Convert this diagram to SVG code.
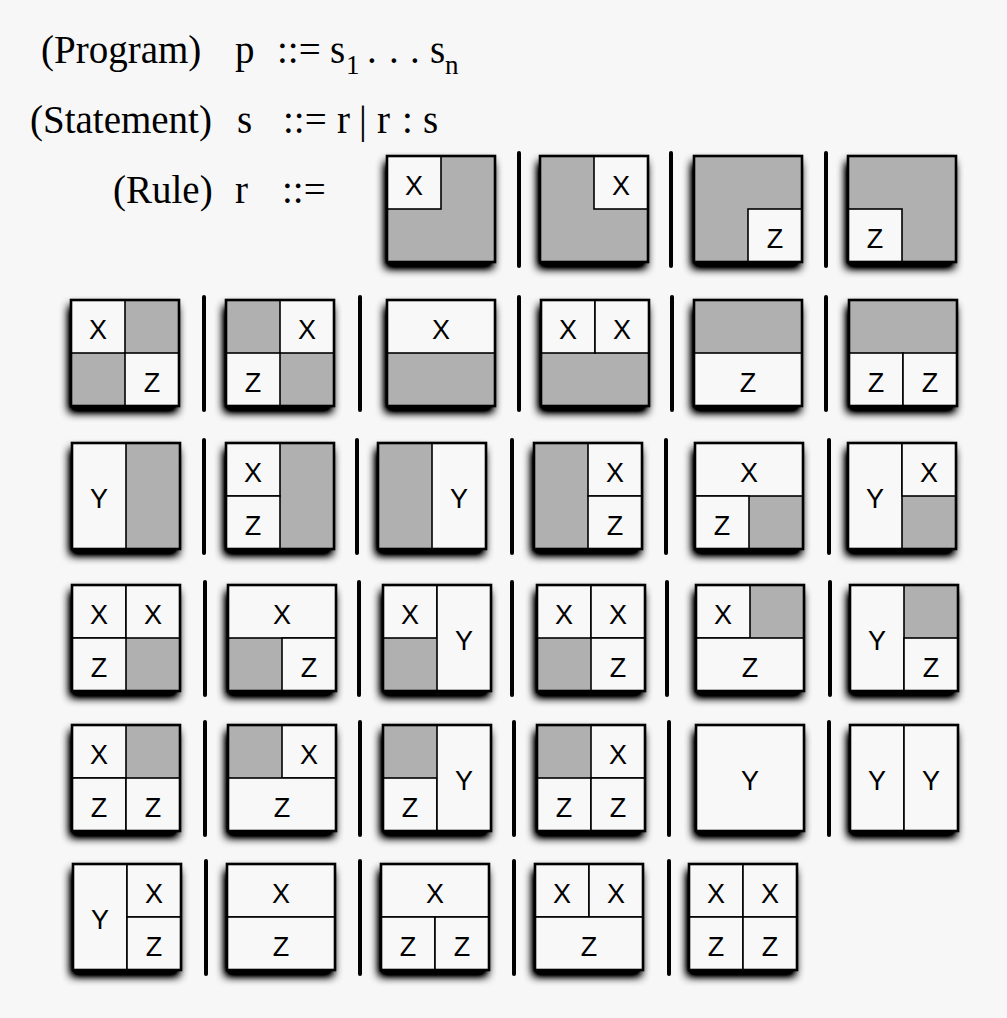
<svg xmlns="http://www.w3.org/2000/svg" width="1007" height="1018" viewBox="0 0 1007 1018">
<defs>
<filter id="sh" x="-30%" y="-30%" width="160%" height="160%">
<feGaussianBlur in="SourceAlpha" stdDeviation="5" result="b"/>
<feOffset in="b" dx="-2" dy="6" result="o"/>
<feComponentTransfer in="o" result="d"><feFuncA type="linear" slope="1.7"/></feComponentTransfer>
<feMerge><feMergeNode in="d"/><feMergeNode in="SourceGraphic"/></feMerge>
</filter>
<style>
.gr{font-family:"Liberation Serif","Times New Roman",serif;font-size:39px;fill:#000}
.sub{font-family:"Liberation Serif","Times New Roman",serif;font-size:27px;fill:#000}
.lb{font-family:"Liberation Sans",Arial,sans-serif;font-size:27px;fill:#000;text-anchor:middle}
.base{fill:#b0b0b0;filter:url(#sh)}
.w{fill:#f8f8f8;stroke:#000;stroke-width:1.6}
.o{fill:none;stroke:#000;stroke-width:2.6}
.bar{stroke:#000;stroke-width:4;stroke-linecap:round}
</style>
</defs>
<rect width="1007" height="1018" fill="#f7f7f7"/>

<g id="grammar">
<text class="gr" x="41" y="63">(Program)</text>
<text class="gr" x="235" y="63">p</text>
<text class="gr" x="277" y="63">::=</text>
<text class="gr" x="330" y="63">s</text>
<text class="sub" x="346" y="74">1</text>
<text class="gr" x="367 389 410" y="63">...</text>
<text class="gr" x="430" y="63">s</text>
<text class="sub" x="445" y="74">n</text>

<text class="gr" x="30" y="133">(Statement)</text>
<text class="gr" x="237" y="133">s</text>
<text class="gr" x="283" y="133">::=</text>
<text class="gr" x="337" y="133">r</text>
<text class="gr" x="359" y="133">|</text>
<text class="gr" x="377" y="133">r</text>
<text class="gr" x="402" y="133">:</text>
<text class="gr" x="423" y="133">s</text>

<text class="gr" x="113" y="203">(Rule)</text>
<text class="gr" x="235" y="203">r</text>
<text class="gr" x="282" y="203">::=</text>
</g>

<g id="separators">
<line class="bar" x1="519" y1="153" x2="519" y2="266"/>
<line class="bar" x1="671" y1="153" x2="671" y2="266"/>
<line class="bar" x1="826" y1="153" x2="826" y2="266"/>

<line class="bar" x1="204" y1="297" x2="204" y2="410"/>
<line class="bar" x1="360" y1="297" x2="360" y2="410"/>
<line class="bar" x1="519" y1="297" x2="519" y2="410"/>
<line class="bar" x1="672" y1="297" x2="672" y2="410"/>
<line class="bar" x1="826" y1="297" x2="826" y2="410"/>

<line class="bar" x1="204" y1="440" x2="204" y2="553"/>
<line class="bar" x1="357" y1="440" x2="357" y2="553"/>
<line class="bar" x1="512" y1="440" x2="512" y2="553"/>
<line class="bar" x1="666" y1="440" x2="666" y2="553"/>
<line class="bar" x1="829" y1="440" x2="829" y2="553"/>

<line class="bar" x1="205" y1="582" x2="205" y2="695"/>
<line class="bar" x1="359" y1="582" x2="359" y2="695"/>
<line class="bar" x1="512" y1="582" x2="512" y2="695"/>
<line class="bar" x1="667" y1="582" x2="667" y2="695"/>
<line class="bar" x1="830" y1="582" x2="830" y2="695"/>

<line class="bar" x1="205" y1="722" x2="205" y2="835"/>
<line class="bar" x1="360" y1="722" x2="360" y2="835"/>
<line class="bar" x1="514" y1="722" x2="514" y2="835"/>
<line class="bar" x1="669" y1="722" x2="669" y2="835"/>
<line class="bar" x1="829" y1="722" x2="829" y2="835"/>

<line class="bar" x1="206" y1="861" x2="206" y2="974"/>
<line class="bar" x1="360" y1="861" x2="360" y2="974"/>
<line class="bar" x1="514" y1="861" x2="514" y2="974"/>
<line class="bar" x1="669" y1="861" x2="669" y2="974"/>
</g>

<!-- Row 1 -->
<g id="r01" transform="translate(387,156)">
<rect class="base" width="108" height="106"/>
<rect class="w" x="0" y="0" width="54" height="53"/>
<text class="lb" x="27" y="39">X</text>
<rect class="o" width="108" height="106"/>
</g>
<g id="r02" transform="translate(540,156)">
<rect class="base" width="108" height="106"/>
<rect class="w" x="54" y="0" width="54" height="53"/>
<text class="lb" x="81" y="39">X</text>
<rect class="o" width="108" height="106"/>
</g>
<g id="r03" transform="translate(694,156)">
<rect class="base" width="108" height="106"/>
<rect class="w" x="54" y="53" width="54" height="53"/>
<text class="lb" x="81" y="92">Z</text>
<rect class="o" width="108" height="106"/>
</g>
<g id="r04" transform="translate(848,156)">
<rect class="base" width="108" height="106"/>
<rect class="w" x="0" y="53" width="54" height="53"/>
<text class="lb" x="27" y="92">Z</text>
<rect class="o" width="108" height="106"/>
</g>

<!-- Row 2 -->
<g id="r05" transform="translate(71,300)">
<rect class="base" width="108" height="106"/>
<rect class="w" x="0" y="0" width="54" height="53"/>
<rect class="w" x="54" y="53" width="54" height="53"/>
<text class="lb" x="27" y="39">X</text>
<text class="lb" x="81" y="92">Z</text>
<rect class="o" width="108" height="106"/>
</g>
<g id="r06" transform="translate(226,300)">
<rect class="base" width="108" height="106"/>
<rect class="w" x="54" y="0" width="54" height="53"/>
<rect class="w" x="0" y="53" width="54" height="53"/>
<text class="lb" x="81" y="39">X</text>
<text class="lb" x="27" y="92">Z</text>
<rect class="o" width="108" height="106"/>
</g>
<g id="r07" transform="translate(387,300)">
<rect class="base" width="108" height="106"/>
<rect class="w" x="0" y="0" width="108" height="53"/>
<text class="lb" x="54" y="39">X</text>
<rect class="o" width="108" height="106"/>
</g>
<g id="r08" transform="translate(541,300)">
<rect class="base" width="108" height="106"/>
<rect class="w" x="0" y="0" width="54" height="53"/>
<rect class="w" x="54" y="0" width="54" height="53"/>
<text class="lb" x="27" y="39">X</text>
<text class="lb" x="81" y="39">X</text>
<rect class="o" width="108" height="106"/>
</g>
<g id="r09" transform="translate(694,300)">
<rect class="base" width="108" height="106"/>
<rect class="w" x="0" y="53" width="108" height="53"/>
<text class="lb" x="54" y="92">Z</text>
<rect class="o" width="108" height="106"/>
</g>
<g id="r10" transform="translate(849,300)">
<rect class="base" width="108" height="106"/>
<rect class="w" x="0" y="53" width="54" height="53"/>
<rect class="w" x="54" y="53" width="54" height="53"/>
<text class="lb" x="27" y="92">Z</text>
<text class="lb" x="81" y="92">Z</text>
<rect class="o" width="108" height="106"/>
</g>

<!-- Row 3 -->
<g id="r11" transform="translate(72,443)">
<rect class="base" width="108" height="106"/>
<rect class="w" x="0" y="0" width="54" height="106"/>
<text class="lb" x="27" y="65">Y</text>
<rect class="o" width="108" height="106"/>
</g>
<g id="r12" transform="translate(226,443)">
<rect class="base" width="108" height="106"/>
<rect class="w" x="0" y="0" width="54" height="53"/>
<rect class="w" x="0" y="53" width="54" height="53"/>
<text class="lb" x="27" y="39">X</text>
<text class="lb" x="27" y="92">Z</text>
<rect class="o" width="108" height="106"/>
</g>
<g id="r13" transform="translate(378,443)">
<rect class="base" width="108" height="106"/>
<rect class="w" x="54" y="0" width="54" height="106"/>
<text class="lb" x="81" y="65">Y</text>
<rect class="o" width="108" height="106"/>
</g>
<g id="r14" transform="translate(534,443)">
<rect class="base" width="108" height="106"/>
<rect class="w" x="54" y="0" width="54" height="53"/>
<rect class="w" x="54" y="53" width="54" height="53"/>
<text class="lb" x="81" y="39">X</text>
<text class="lb" x="81" y="92">Z</text>
<rect class="o" width="108" height="106"/>
</g>
<g id="r15" transform="translate(695,443)">
<rect class="base" width="108" height="106"/>
<rect class="w" x="0" y="0" width="108" height="53"/>
<rect class="w" x="0" y="53" width="54" height="53"/>
<text class="lb" x="54" y="39">X</text>
<text class="lb" x="27" y="92">Z</text>
<rect class="o" width="108" height="106"/>
</g>
<g id="r16" transform="translate(848,443)">
<rect class="base" width="108" height="106"/>
<rect class="w" x="0" y="0" width="54" height="106"/>
<rect class="w" x="54" y="0" width="54" height="53"/>
<text class="lb" x="27" y="65">Y</text>
<text class="lb" x="81" y="39">X</text>
<rect class="o" width="108" height="106"/>
</g>

<!-- Row 4 -->
<g id="r17" transform="translate(72,585)">
<rect class="base" width="108" height="106"/>
<rect class="w" x="0" y="0" width="54" height="53"/>
<rect class="w" x="54" y="0" width="54" height="53"/>
<rect class="w" x="0" y="53" width="54" height="53"/>
<text class="lb" x="27" y="39">X</text>
<text class="lb" x="81" y="39">X</text>
<text class="lb" x="27" y="92">Z</text>
<rect class="o" width="108" height="106"/>
</g>
<g id="r18" transform="translate(228,585)">
<rect class="base" width="108" height="106"/>
<rect class="w" x="0" y="0" width="108" height="53"/>
<rect class="w" x="54" y="53" width="54" height="53"/>
<text class="lb" x="54" y="39">X</text>
<text class="lb" x="81" y="92">Z</text>
<rect class="o" width="108" height="106"/>
</g>
<g id="r19" transform="translate(383,585)">
<rect class="base" width="108" height="106"/>
<rect class="w" x="0" y="0" width="54" height="53"/>
<rect class="w" x="54" y="0" width="54" height="106"/>
<text class="lb" x="27" y="39">X</text>
<text class="lb" x="81" y="65">Y</text>
<rect class="o" width="108" height="106"/>
</g>
<g id="r20" transform="translate(537,585)">
<rect class="base" width="108" height="106"/>
<rect class="w" x="0" y="0" width="54" height="53"/>
<rect class="w" x="54" y="0" width="54" height="53"/>
<rect class="w" x="54" y="53" width="54" height="53"/>
<text class="lb" x="27" y="39">X</text>
<text class="lb" x="81" y="39">X</text>
<text class="lb" x="81" y="92">Z</text>
<rect class="o" width="108" height="106"/>
</g>
<g id="r21" transform="translate(696,585)">
<rect class="base" width="108" height="106"/>
<rect class="w" x="0" y="0" width="54" height="53"/>
<rect class="w" x="0" y="53" width="108" height="53"/>
<text class="lb" x="27" y="39">X</text>
<text class="lb" x="54" y="92">Z</text>
<rect class="o" width="108" height="106"/>
</g>
<g id="r22" transform="translate(850,585)">
<rect class="base" width="108" height="106"/>
<rect class="w" x="0" y="0" width="54" height="106"/>
<rect class="w" x="54" y="53" width="54" height="53"/>
<text class="lb" x="27" y="65">Y</text>
<text class="lb" x="81" y="92">Z</text>
<rect class="o" width="108" height="106"/>
</g>

<!-- Row 5 -->
<g id="r23" transform="translate(72,725)">
<rect class="base" width="108" height="106"/>
<rect class="w" x="0" y="0" width="54" height="53"/>
<rect class="w" x="0" y="53" width="54" height="53"/>
<rect class="w" x="54" y="53" width="54" height="53"/>
<text class="lb" x="27" y="39">X</text>
<text class="lb" x="27" y="92">Z</text>
<text class="lb" x="81" y="92">Z</text>
<rect class="o" width="108" height="106"/>
</g>
<g id="r24" transform="translate(228,725)">
<rect class="base" width="108" height="106"/>
<rect class="w" x="54" y="0" width="54" height="53"/>
<rect class="w" x="0" y="53" width="108" height="53"/>
<text class="lb" x="81" y="39">X</text>
<text class="lb" x="54" y="92">Z</text>
<rect class="o" width="108" height="106"/>
</g>
<g id="r25" transform="translate(383,725)">
<rect class="base" width="108" height="106"/>
<rect class="w" x="0" y="53" width="54" height="53"/>
<rect class="w" x="54" y="0" width="54" height="106"/>
<text class="lb" x="27" y="92">Z</text>
<text class="lb" x="81" y="65">Y</text>
<rect class="o" width="108" height="106"/>
</g>
<g id="r26" transform="translate(537,725)">
<rect class="base" width="108" height="106"/>
<rect class="w" x="54" y="0" width="54" height="53"/>
<rect class="w" x="0" y="53" width="54" height="53"/>
<rect class="w" x="54" y="53" width="54" height="53"/>
<text class="lb" x="81" y="39">X</text>
<text class="lb" x="27" y="92">Z</text>
<text class="lb" x="81" y="92">Z</text>
<rect class="o" width="108" height="106"/>
</g>
<g id="r27" transform="translate(696,725)">
<rect class="base" width="108" height="106"/>
<rect class="w" x="0" y="0" width="108" height="106"/>
<text class="lb" x="54" y="65">Y</text>
<rect class="o" width="108" height="106"/>
</g>
<g id="r28" transform="translate(850,725)">
<rect class="base" width="108" height="106"/>
<rect class="w" x="0" y="0" width="54" height="106"/>
<rect class="w" x="54" y="0" width="54" height="106"/>
<text class="lb" x="27" y="65">Y</text>
<text class="lb" x="81" y="65">Y</text>
<rect class="o" width="108" height="106"/>
</g>

<!-- Row 6 -->
<g id="r29" transform="translate(73,864)">
<rect class="base" width="108" height="106"/>
<rect class="w" x="0" y="0" width="54" height="106"/>
<rect class="w" x="54" y="0" width="54" height="53"/>
<rect class="w" x="54" y="53" width="54" height="53"/>
<text class="lb" x="27" y="65">Y</text>
<text class="lb" x="81" y="39">X</text>
<text class="lb" x="81" y="92">Z</text>
<rect class="o" width="108" height="106"/>
</g>
<g id="r30" transform="translate(227,864)">
<rect class="base" width="108" height="106"/>
<rect class="w" x="0" y="0" width="108" height="53"/>
<rect class="w" x="0" y="53" width="108" height="53"/>
<text class="lb" x="54" y="39">X</text>
<text class="lb" x="54" y="92">Z</text>
<rect class="o" width="108" height="106"/>
</g>
<g id="r31" transform="translate(381,864)">
<rect class="base" width="108" height="106"/>
<rect class="w" x="0" y="0" width="108" height="53"/>
<rect class="w" x="0" y="53" width="54" height="53"/>
<rect class="w" x="54" y="53" width="54" height="53"/>
<text class="lb" x="54" y="39">X</text>
<text class="lb" x="27" y="92">Z</text>
<text class="lb" x="81" y="92">Z</text>
<rect class="o" width="108" height="106"/>
</g>
<g id="r32" transform="translate(535,864)">
<rect class="base" width="108" height="106"/>
<rect class="w" x="0" y="0" width="54" height="53"/>
<rect class="w" x="54" y="0" width="54" height="53"/>
<rect class="w" x="0" y="53" width="108" height="53"/>
<text class="lb" x="27" y="39">X</text>
<text class="lb" x="81" y="39">X</text>
<text class="lb" x="54" y="92">Z</text>
<rect class="o" width="108" height="106"/>
</g>
<g id="r33" transform="translate(689,864)">
<rect class="base" width="108" height="106"/>
<rect class="w" x="0" y="0" width="54" height="53"/>
<rect class="w" x="54" y="0" width="54" height="53"/>
<rect class="w" x="0" y="53" width="54" height="53"/>
<rect class="w" x="54" y="53" width="54" height="53"/>
<text class="lb" x="27" y="39">X</text>
<text class="lb" x="81" y="39">X</text>
<text class="lb" x="27" y="92">Z</text>
<text class="lb" x="81" y="92">Z</text>
<rect class="o" width="108" height="106"/>
</g>
</svg>
